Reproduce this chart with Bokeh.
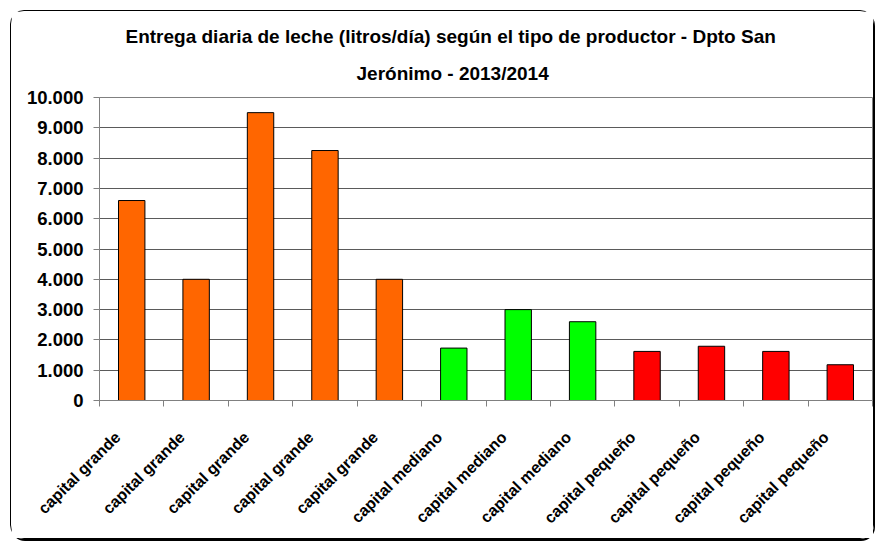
import math
import numpy as np
from bokeh.plotting import figure
from bokeh.models import ColumnDataSource, FixedTicker, Range1d, Title
from bokeh.embed import file_html
from bokeh.resources import INLINE

# ---- data ----
title_line1 = "Entrega diaria de leche (litros/día) según el tipo de productor - Dpto San"
title_line2 = "Jerónimo - 2013/2014"
categories = ["capital grande", "capital grande", "capital grande", "capital grande", "capital grande",
              "capital mediano", "capital mediano", "capital mediano",
              "capital pequeño", "capital pequeño", "capital pequeño", "capital pequeño"]
values = [6600, 4000, 9500, 8250, 4000, 1730, 3000, 2600, 1620, 1790, 1620, 1180]
type_colors = {"capital grande": "#FF6600", "capital mediano": "#00FF00", "capital pequeño": "#FF0000"}
y_ticks = [0, 1000, 2000, 3000, 4000, 5000, 6000, 7000, 8000, 9000, 10000]
y_tick_labels = ["0", "1.000", "2.000", "3.000", "4.000", "5.000", "6.000", "7.000", "8.000", "9.000", "10.000"]

FONT = "Liberation Sans"
LABEL_SHIFT = 0.22  # category labels sit slightly left of bar centre (rotated text)

n = len(categories)
xc = [i + 0.5 for i in range(n)]
src = ColumnDataSource(dict(x=xc, top=values, color=[type_colors[c] for c in categories]))

p = figure(width=864, height=529, output_backend="svg", toolbar_location=None,
           x_range=Range1d(0, n), y_range=Range1d(0, 10000),
           min_border_left=88, min_border_right=3, min_border_top=86, min_border_bottom=140)
p.background_fill_color = "white"
p.border_fill_color = "white"
p.outline_line_color = "#808080"
p.outline_line_width = 1

p.styles = {"margin": "10px 0 0 10px", "border": "1.5px solid black", "border-radius": "14px",
            "box-shadow": "1px 2px 0 0 #000"}

# titles (line 2 added first -> closest to plot)
t2 = Title(text=title_line2, align="left", offset=257, text_font=FONT, text_font_size="19px",
           text_font_style="bold", text_color="black", standoff=28)
t1 = Title(text=title_line1, align="left", offset=26, text_font=FONT, text_font_size="19px",
           text_font_style="bold", text_color="black", standoff=0, text_line_height=1.5)
p.add_layout(t2, "above")
p.add_layout(t1, "above")

p.vbar(x="x", top="top", width=0.41, fill_color="color", line_color="black", line_width=1, source=src)

# grid
p.xgrid.visible = False
p.ygrid.ticker = FixedTicker(ticks=y_ticks)
p.ygrid.grid_line_color = "#5a5a5a"
p.ygrid.grid_line_width = 1

# y axis
ya = p.yaxis[0]
ya.ticker = FixedTicker(ticks=y_ticks)
ya.major_label_overrides = {t: l for t, l in zip(y_ticks, y_tick_labels)}
ya.axis_line_color = "#808080"
ya.major_tick_line_color = "#808080"
ya.major_tick_out = 6
ya.major_tick_in = 0
ya.minor_tick_line_color = None
ya.major_label_standoff = 10
ya.major_label_text_font = FONT
ya.major_label_text_font_style = "bold"
ya.major_label_text_font_size = "18.5px"
ya.major_label_text_color = "black"

# x axis
label_pos = [x - LABEL_SHIFT for x in xc]
xa = p.xaxis[0]
xa.ticker = FixedTicker(ticks=label_pos, minor_ticks=list(range(n + 1)))
xa.major_label_overrides = {x: c for x, c in zip(label_pos, categories)}
xa.axis_line_color = "#808080"
xa.major_tick_line_color = None
xa.major_tick_out = 6
xa.major_tick_in = 0
xa.minor_tick_line_color = "#808080"
xa.minor_tick_out = 6
xa.minor_tick_in = 0
xa.major_label_orientation = math.pi / 4
xa.major_label_standoff = 28
xa.major_label_text_font = FONT
xa.major_label_text_font_style = "bold"
xa.major_label_text_font_size = "16px"
xa.major_label_text_color = "black"

open("out.html", "w").write(file_html(p, INLINE))
